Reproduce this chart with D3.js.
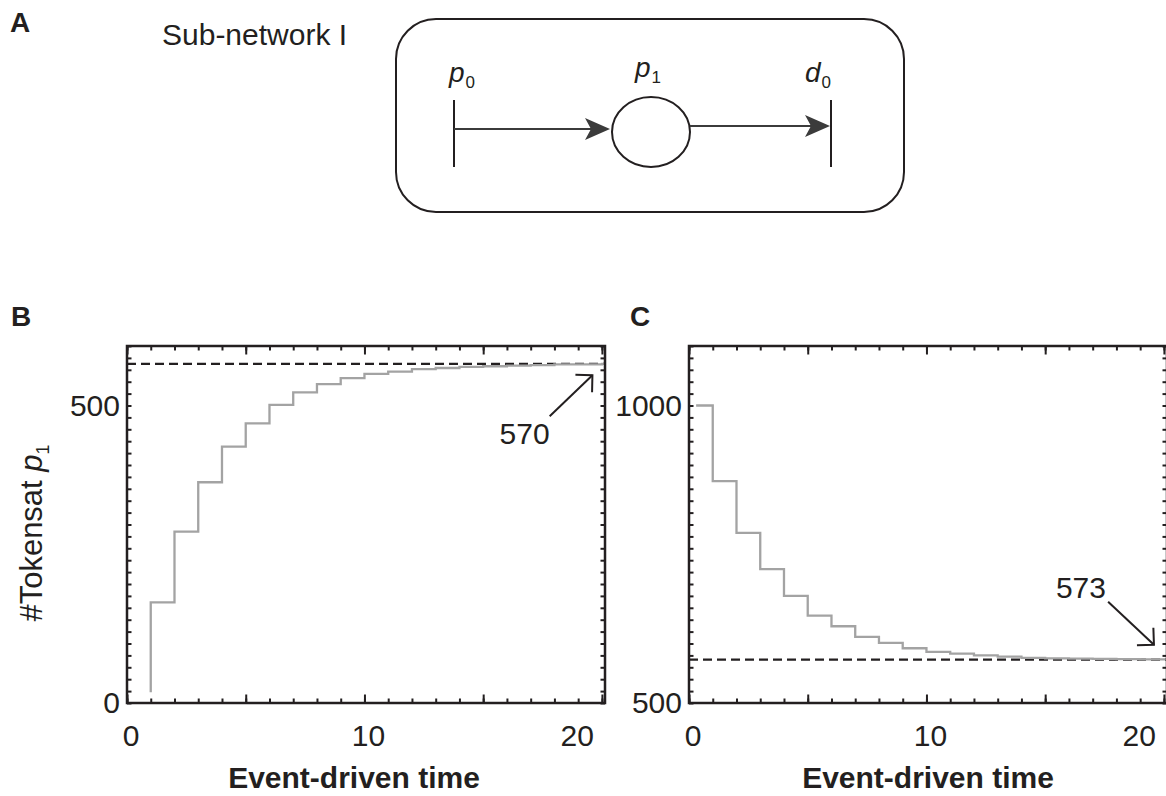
<!DOCTYPE html>
<html>
<head>
<meta charset="utf-8">
<script src="https://cdn.jsdelivr.net/npm/d3@7"></script>
<style>
  body { margin: 0; background: #fff; }
  text { font-family: "Liberation Sans", Arial, sans-serif; fill: #231f20; }
</style>
</head>
<body>
<svg id="fig" width="1166" height="796"></svg>
<script>
// event-driven time steps and tokens at p1
var stepTimesB = [1, 1, 2, 3, 4, 5, 6, 7, 8, 9, 10, 11, 12, 13, 14, 15, 16, 17, 18, 19, 20];
var tokensB = [18, 169, 288, 371, 431, 470, 501, 522, 536, 546, 553, 557, 561, 563, 565, 566, 567, 568, 569, 569, 570];
var stepTimesC = [0.3, 1, 2, 3, 4, 5, 6, 7, 8, 9, 10, 11, 12, 13, 14, 15, 16, 17, 18, 19, 20];
var tokensC = [1000, 873, 786, 725, 680, 647, 629, 611, 601, 592, 586, 583, 580, 578, 576, 575, 574.5, 574, 573.6, 573.3, 573.2];
var steadyB = 570;
var steadyC = 573;

var xTickLabels = [0, 10, 20];
var yTickLabelsB = [0, 500];
var yTickLabelsC = [500, 1000];

var svg = d3.select("#fig");
var ink = "#231f20";

// ---------- panel A : the sub-network diagram ----------
svg.append("text").attr("x", 10).attr("y", 32)
  .style("font-size", "28px").style("font-weight", "bold").text("A");
svg.append("text").attr("x", 162).attr("y", 45)
  .style("font-size", "30px").text("Sub-network I");

var net = svg.append("g");
net.append("rect").attr("x", 396).attr("y", 19).attr("width", 508).attr("height", 193)
  .attr("rx", 40).attr("fill", "none").attr("stroke", ink).attr("stroke-width", 2);

function bar(x) {
  net.append("line").attr("x1", x).attr("x2", x).attr("y1", 100).attr("y2", 167)
    .attr("stroke", ink).attr("stroke-width", 2);
}
function arrow(x1, x2, y) {
  net.append("line").attr("x1", x1).attr("x2", x2 - 18).attr("y1", y).attr("y2", y)
    .attr("stroke", "#3b3b3b").attr("stroke-width", 2);
  net.append("path")
    .attr("d", "M" + x2 + "," + y + " L" + (x2 - 25) + "," + (y - 11) + " L" + (x2 - 19) + "," + y +
      " L" + (x2 - 25) + "," + (y + 11) + "Z")
    .attr("fill", "#3b3b3b");
}
bar(454);
arrow(454, 610, 129);
net.append("ellipse").attr("cx", 651).attr("cy", 132).attr("rx", 39).attr("ry", 35)
  .attr("fill", "none").attr("stroke", ink).attr("stroke-width", 2);
arrow(690, 830, 126);
bar(831);

function placeLabel(x, y, letter, sub) {
  var t = net.append("text").attr("x", x).attr("y", y).style("font-size", "28px");
  t.append("tspan").style("font-style", "italic").text(letter);
  t.append("tspan").attr("dy", 6).attr("dx", 1).style("font-size", "17px").text(sub);
}
placeLabel(449, 82, "p", "0");
placeLabel(635, 77, "p", "1");
placeLabel(805, 82, "d", "0");

// ---------- panels B and C ----------
var frameTop = 346, frameBottom = 703, frameW = 478;
var xMax = 20.13;

function drawPanel(opts) {
  var left = opts.left;
  var x = d3.scaleLinear().domain([0, xMax]).range([left, left + frameW]);
  var y = d3.scaleLinear().domain(opts.yDomain).range([frameBottom, frameTop]);
  var g = svg.append("g");

  g.append("text").attr("x", opts.tagX).attr("y", 326)
    .style("font-size", "28px").style("font-weight", "bold").text(opts.tag);

  var xMinor = d3.range(0, 21);
  var xMajor = [0, 5, 10, 15, 20];
  var yMinor = d3.range(opts.yDomain[0], opts.yDomain[1] + 1, 20);

  function ticks(axis, vals, size, tx, ty) {
    g.append("g").attr("transform", "translate(" + tx + "," + ty + ")")
      .call(axis.tickValues(vals).tickSize(-size).tickFormat(""))
      .call(function(s) {
        s.select(".domain").remove();
        s.selectAll("line").attr("stroke", ink).attr("stroke-width", 2);
      });
  }
  ticks(d3.axisBottom(x), xMinor, 4.5, 0, frameBottom);
  ticks(d3.axisBottom(x), xMajor, 8.5, 0, frameBottom);
  ticks(d3.axisTop(x), xMinor, 4.5, 0, frameTop);
  ticks(d3.axisTop(x), xMajor, 8.5, 0, frameTop);
  ticks(d3.axisLeft(y), yMinor, 4.5, left, 0);
  ticks(d3.axisRight(y), yMinor, 4.5, left + frameW, 0);

  // steady state level
  g.append("line")
    .attr("x1", x(0)).attr("x2", x(xMax))
    .attr("y1", y(opts.steady)).attr("y2", y(opts.steady))
    .attr("stroke", ink).attr("stroke-width", 2.2).attr("stroke-dasharray", "9,5");

  // token trajectory
  var pts = opts.times.map(function(t, i) { return [t, opts.tokens[i]]; });
  pts.push([xMax, opts.tokens[opts.tokens.length - 1]]);
  g.append("path").datum(pts)
    .attr("fill", "none").attr("stroke", "#a3a3a3").attr("stroke-width", 2.3)
    .attr("d", d3.line().curve(d3.curveStepAfter)
      .x(function(d) { return x(d[0]); }).y(function(d) { return y(d[1]); }));

  // frame
  g.append("rect").attr("x", left).attr("y", frameTop)
    .attr("width", frameW).attr("height", frameBottom - frameTop)
    .attr("fill", "none").attr("stroke", ink).attr("stroke-width", 2.5);

  // tick labels
  g.selectAll(".xl").data(xTickLabels).join("text")
    .attr("x", function(d) { return d === 20 ? x(d) - 8 : x(d) + 4; })
    .attr("y", frameBottom + 43)
    .attr("text-anchor", function(d) { return d === 20 ? "end" : "middle"; })
    .style("font-size", "30px").text(function(d) { return d; });
  g.selectAll(".yl").data(opts.yLabels).join("text")
    .attr("x", left - 7).attr("y", function(d) { return y(d) + 10; })
    .attr("text-anchor", "end")
    .style("font-size", "30px").text(function(d) { return d; });

  // axis title
  g.append("text").attr("x", left + frameW / 2 + opts.titleShift).attr("y", 788)
    .attr("text-anchor", "middle").style("font-size", "30px").style("font-weight", "bold")
    .text("Event-driven time");

  // annotation with open arrow head
  var a = opts.note;
  var x1 = x(a.from[0]), y1 = y(a.from[1]), x2 = x(a.to[0]), y2 = y(a.to[1]);
  g.append("line").attr("x1", x1).attr("y1", y1).attr("x2", x2).attr("y2", y2)
    .attr("stroke", ink).attr("stroke-width", 2);
  var ang = Math.atan2(y1 - y2, x1 - x2);
  var head = [ang - Math.PI / 4, ang + Math.PI / 4].map(function(t) {
    return [x2 + 17 * Math.cos(t), y2 + 17 * Math.sin(t)];
  });
  g.append("path")
    .attr("d", "M" + head[0] + " L" + x2 + "," + y2 + " L" + head[1])
    .attr("fill", "none").attr("stroke", ink).attr("stroke-width", 2);
  g.append("text").attr("x", x(a.text[0])).attr("y", y(a.text[1]))
    .attr("text-anchor", "end").style("font-size", "30px").text(opts.steady);

  return g;
}

drawPanel({
  left: 127, tag: "B", tagX: 11, yDomain: [0, 600], yLabels: yTickLabelsB,
  times: stepTimesB, tokens: tokensB, steady: steadyB, titleShift: -12,
  note: { from: [17.8, 482], to: [19.6, 551], text: [17.8, 435] }
});
drawPanel({
  left: 689, tag: "C", tagX: 630, yDomain: [500, 1100], yLabels: yTickLabelsC,
  times: stepTimesC, tokens: tokensC, steady: steadyC, titleShift: 0,
  note: { from: [17.65, 670], to: [19.58, 598], text: [17.56, 677] }
});

// y axis title
var yt = svg.append("text").attr("transform", "translate(42,533) rotate(-90)")
  .attr("text-anchor", "middle").style("font-size", "31px");
yt.append("tspan").text("#Tokensat ");
yt.append("tspan").style("font-style", "italic").text("p");
yt.append("tspan").attr("dy", 7).style("font-size", "18px").text("1");
</script>
</body>
</html>
